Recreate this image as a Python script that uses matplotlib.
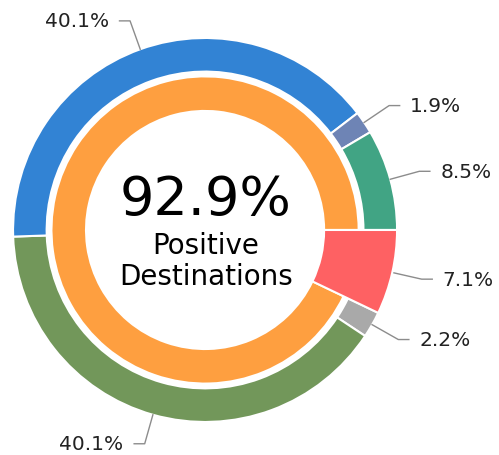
import numpy as np
import matplotlib.pyplot as plt

# outer ring, clockwise from 3 o'clock
outer_labels = ["7.1%", "2.2%", "40.1%", "40.1%", "1.9%", "8.5%"]
outer_values = [7.1, 2.2, 40.1, 40.1, 1.9, 8.5]
outer_colors = ["#fe6163", "#a9a9a9", "#72975a", "#3283d4", "#6e84b5", "#41a484"]

# inner ring: positive share, red slice is the remainder
inner_values = [7.1, 92.9]
inner_colors = ["none", "#fe9f40"]

center_value = "92.9%"
center_caption = ["Positive", "Destinations"]

fig = plt.figure(figsize=(4.99, 4.56), dpi=100)
ax = fig.add_axes([0, 0, 1, 1])

wp = dict(edgecolor="white", linewidth=1.5)
outer, _ = ax.pie(outer_values, radius=1.0, colors=outer_colors, startangle=0,
                  counterclock=False, wedgeprops=dict(width=0.175, **wp))
inner, _ = ax.pie(inner_values, radius=0.80, colors=inner_colors, startangle=0,
                  counterclock=False, wedgeprops=dict(width=0.18, **wp))
inner[0].set_edgecolor("none")
# red slice goes through both rings
outer[0].set_width(1.0 - 0.62)
outer[0].set_zorder(5)

# leader lines + labels
for w, lab in zip(outer, outer_labels):
    mid = np.radians((w.theta1 + w.theta2) / 2)
    cx, cy = np.cos(mid), np.sin(mid)
    ex, ey = 1.157 * cx, 1.157 * cy
    side = 1 if cx > 0 else -1
    hx = ex + side * 0.055
    ax.plot([cx, ex, hx], [cy, ey, ey], color="#8c8c8c", lw=1)
    ax.text(hx + side * 0.055, ey, lab, ha="left" if side > 0 else "right",
            va="center", fontsize=14.5, color="#222222")

ax.text(0.005, 0.083, center_value, ha="center", va="baseline", fontsize=39, color="black")
ax.text(0.005, -0.12, center_caption[0], ha="center", va="baseline", fontsize=20, color="black")
ax.text(0.005, -0.281, center_caption[1], ha="center", va="baseline", fontsize=20, color="black")

ax.set_xlim(-1.068, 1.531)
ax.set_ylim(-1.172, 1.203)
ax.set_aspect("equal")
ax.axis("off")

fig.savefig("out.png", dpi=100)
